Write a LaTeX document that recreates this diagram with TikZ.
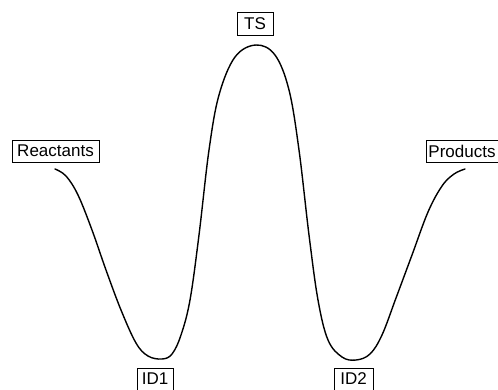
\documentclass[tikz,border=0pt]{standalone}
\usepackage{fontspec}
\setmainfont{Liberation Sans}
\begin{document}
\begin{tikzpicture}[x=1pt,y=-1pt,
  lab/.style={draw,line width=0.8pt,font=\fontsize{17}{17}\selectfont,inner sep=0pt,minimum height=22pt,text depth=0pt},
  curve/.style={line width=1.4pt,line cap=round,line join=round}]
\useasboundingbox (0,0) rectangle (498,389);
\node[lab,minimum width=87pt] (R) at (55.5,151) {Reactants};
\node[lab,minimum width=72pt] (P) at (462,151) {Products};
\node[lab,minimum width=36pt,minimum height=23pt] (TS) at (255,23.5) {TS};
\node[lab,minimum width=36pt] (I1) at (155,379) {ID1};
\node[lab,minimum width=39pt] (I2) at (353.5,379) {ID2};
\draw[curve] plot[smooth,tension=0.6] coordinates {
 (55,169) (66,176) (78,195) (92,230) (106,270) (121,310) (136,343) (148,356) (162,359) (172,354)
 (181,335) (190,300) (199,235) (209,150) (219,95) (235,57) (256,45) (275,55) (289,90)
 (299,150) (309,235) (318,300) (328,340) (342,357) (356,360) (370,354) (382,335)
 (396,298) (412,255) (428,212) (442,186) (454,174) (465,169)};
\end{tikzpicture}
\end{document}
